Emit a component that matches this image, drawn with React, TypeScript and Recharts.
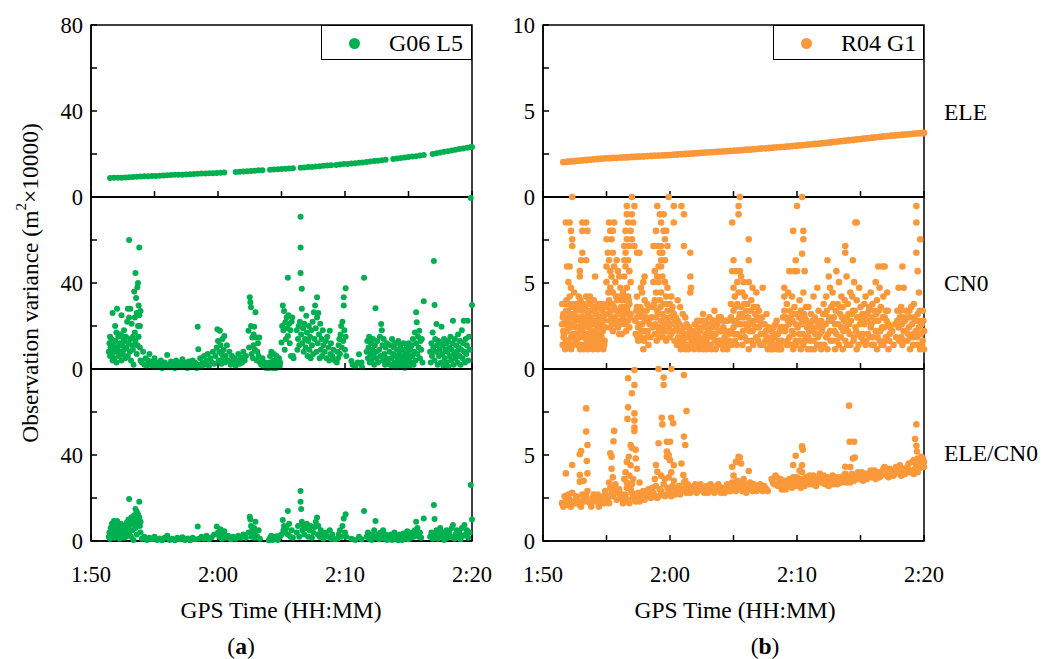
import React from 'react';
import { ScatterChart, Scatter, XAxis, YAxis, ReferenceArea, Legend } from 'recharts';

type Pt = [number, number];

// time axis: minutes after 1:50
const timeTicks = [0, 5, 10, 15, 20, 25, 30];
const timeLabels: Record<number, string> = { 0: '1:50', 10: '2:00', 20: '2:10', 30: '2:20' };
const leftYTicks = [0, 20, 40, 60, 80];
const rightYTicks = [0, 2.5, 5, 7.5, 10];
const leftTopLabels = [0, 40, 80];
const leftLabels = [0, 40];
const rightTopLabels = [0, 5, 10];
const rightLabels = [0, 5];
const rowNames = ['ELE', 'CN0', 'ELE/CN0'];
const seriesNames = ['G06 L5', 'R04 G1'];

const g06Ele: Pt[] = [
  [1.5, 8.8], [1.8, 8.9], [2.1, 9.0], [2.4, 9.0], [2.7, 9.1], [3.0, 9.2], [3.3, 9.3], [3.6, 9.4], [3.9, 9.5], [4.2, 9.6],
  [4.5, 9.7], [4.8, 9.8], [5.1, 9.8], [5.4, 9.9], [5.7, 10.0], [6.0, 10.1], [6.3, 10.2], [6.6, 10.3], [6.9, 10.4], [7.2, 10.4],
  [7.5, 10.5], [7.8, 10.6], [8.1, 10.7], [8.4, 10.8], [8.7, 10.9], [9.0, 10.9], [9.3, 11.0], [9.6, 11.1], [9.9, 11.2], [10.2, 11.3],
  [10.5, 11.4], [11.4, 11.6], [11.7, 11.7], [12.0, 11.9], [12.3, 12.0], [12.6, 12.1], [12.9, 12.2], [13.2, 12.4], [13.5, 12.5],
  [14.1, 12.7], [14.4, 12.8], [14.7, 12.9], [15.0, 13.0], [15.3, 13.1], [15.6, 13.3], [15.9, 13.4], [16.5, 13.6], [16.8, 13.7],
  [17.1, 13.9], [17.4, 14.0], [17.7, 14.2], [18.0, 14.3], [18.3, 14.5], [18.6, 14.6], [18.9, 14.8], [19.3, 14.9], [19.6, 15.1],
  [19.9, 15.3], [20.2, 15.4], [20.5, 15.6], [20.8, 15.7], [21.1, 15.9], [21.4, 16.1], [21.7, 16.3], [22.0, 16.5], [22.3, 16.7],
  [22.6, 16.9], [22.9, 17.1], [23.2, 17.3], [23.8, 17.7], [24.1, 17.9], [24.4, 18.1], [24.7, 18.4], [25.0, 18.6], [25.3, 18.8],
  [25.6, 19.0], [25.9, 19.3], [26.2, 19.5], [26.9, 20.0], [27.2, 20.4], [27.5, 20.7], [27.8, 21.0], [28.1, 21.3], [28.4, 21.6],
  [28.7, 22.0], [29.0, 22.3], [29.3, 22.6], [29.6, 22.9], [29.9, 23.2], [30.0, 23.3],
];

const g06Cn0: Pt[] = [
  [1.4, 8], [1.45, 12], [1.5, 6], [1.55, 10], [1.6, 14], [1.65, 7], [1.7, 26], [1.75, 9], [1.8, 11], [1.85, 5], [1.9, 13], [1.95, 8],
  [2.0, 17], [2.05, 28], [2.1, 10], [2.15, 15], [2.2, 6], [2.25, 12], [2.3, 8], [2.35, 16], [2.4, 25], [2.45, 11], [2.5, 7], [2.55, 14],
  [2.6, 9], [2.65, 13], [2.7, 5], [2.75, 15], [2.8, 10], [2.85, 22], [2.9, 28], [2.95, 12], [3.0, 60], [3.0, 24], [3.05, 8], [3.1, 28],
  [3.1, 14], [3.15, 4], [3.2, 21], [3.25, 11], [3.3, 15], [3.35, 2], [3.4, 36], [3.45, 24], [3.5, 44.6], [3.5, 13], [3.55, 33], [3.6, 26],
  [3.6, 7], [3.65, 38], [3.7, 40], [3.7, 20], [3.75, 29.5], [3.75, 15], [3.8, 56.5], [3.8, 25], [3.85, 20], [3.85, 10], [3.9, 27], [3.9, 4],
  [1.5, 15], [1.7, 4], [2.0, 3], [2.2, 16], [2.6, 18], [2.9, 6], [3.3, 9], [3.45, 17], [3.65, 11], [1.9, 20], [2.4, 4],
  [4.0, 3], [4.1, 8], [4.2, 2], [4.3, 5], [4.4, 1.5], [4.5, 4], [4.6, 7], [4.7, 2], [4.8, 3.5], [4.9, 1], [5.0, 5], [5.1, 2.5], [5.2, 1],
  [5.3, 3], [5.4, 1.5], [5.5, 4], [5.6, 0.5], [5.7, 2], [5.8, 3], [5.9, 1], [6.0, 6.5], [6.1, 2], [6.2, 0.8], [6.3, 3.5], [6.4, 1.5],
  [6.5, 2.5], [6.6, 0.5], [6.7, 4], [6.8, 1.5], [6.9, 3], [7.0, 2], [7.1, 0.8], [7.2, 4.5], [7.3, 1.5], [7.4, 3], [7.5, 2], [7.6, 0.5],
  [7.7, 3.5], [7.8, 1], [7.9, 2.5], [8.0, 4], [8.1, 1.5], [8.2, 3], [8.3, 0.5], [8.4, 19.7], [8.45, 9.2], [8.5, 2], [8.6, 5], [8.7, 1],
  [8.8, 3], [8.9, 6], [9.0, 2], [9.1, 4], [9.2, 7], [9.3, 1.5], [9.4, 5], [9.5, 3], [9.6, 8], [9.7, 2.5], [9.8, 6], [9.9, 10],
  [9.95, 18.5], [10.0, 13], [10.05, 4], [10.1, 8], [10.15, 17.8], [10.2, 11], [10.25, 2.5], [10.3, 7], [10.35, 14], [10.4, 5], [10.45, 9],
  [10.5, 15.4], [10.55, 3], [10.6, 6], [10.7, 11], [10.8, 4], [10.9, 8], [11.0, 2], [11.1, 6], [11.2, 3.5], [11.3, 5], [11.4, 1.5],
  [11.5, 4], [11.6, 7], [11.7, 2.5], [11.8, 5.5], [11.9, 3], [12.0, 8], [12.1, 4], [12.2, 6],
  [12.4, 17.8], [12.45, 10], [12.5, 33.4], [12.55, 31], [12.6, 28.7], [12.65, 7], [12.7, 14.7], [12.75, 5], [12.8, 11], [12.85, 19.7],
  [12.9, 9], [12.95, 26.4], [13.0, 14.7], [13.05, 4], [13.1, 8], [13.15, 12], [13.2, 6], [13.25, 14.7], [13.3, 3], [12.6, 20], [12.8, 16],
  [13.4, 2], [13.5, 5], [13.6, 1], [13.7, 3], [13.8, 0.5],
  [14.0, 0.5], [14.05, 3], [14.1, 6], [14.15, 1], [14.2, 8], [14.25, 2], [14.3, 0.5], [14.35, 4], [14.4, 7], [14.45, 1.5], [14.5, 3.7],
  [14.55, 0.5], [14.6, 6], [14.65, 2], [14.7, 4], [14.75, 0.8], [14.8, 5], [14.85, 1.5], [14.9, 3],
  [15.0, 12.3], [15.05, 20], [15.1, 29.5], [15.15, 18], [15.2, 27], [15.25, 9], [15.3, 21.7], [15.35, 14], [15.4, 24], [15.45, 19],
  [15.5, 42.4], [15.5, 15.4], [15.55, 25], [15.6, 21], [15.65, 12], [15.7, 18], [15.75, 6.1], [15.8, 22], [15.85, 24], [15.9, 6], [15.95, 5],
  [16.2, 18], [16.25, 9], [16.3, 14], [16.35, 20], [16.4, 11], [16.45, 22], [16.5, 70.8], [16.5, 56.5], [16.5, 44.6], [16.55, 16],
  [16.6, 37.3], [16.6, 28], [16.65, 12], [16.7, 19], [16.75, 8], [16.8, 21], [16.85, 14], [16.9, 10], [16.95, 24.8], [17.0, 17],
  [17.05, 6], [17.1, 13], [17.15, 20], [17.2, 9], [17.25, 15], [17.3, 5], [17.35, 18], [17.4, 11], [17.45, 22], [17.5, 7], [17.55, 26.4],
  [17.6, 14], [17.65, 29.5], [17.7, 19], [17.75, 8], [17.8, 33.4], [17.8, 24], [17.85, 12], [17.9, 26], [17.95, 16], [18.0, 5], [18.05, 21],
  [18.1, 9], [18.15, 14], [18.2, 6], [18.25, 18], [18.3, 11],
  [18.4, 8], [18.5, 13], [18.55, 5], [18.6, 15], [18.7, 10], [18.75, 4], [18.8, 17.8], [18.85, 7], [18.9, 12], [19.0, 6], [19.1, 9], [19.2, 4],
  [19.35, 3], [19.4, 8], [19.45, 5], [19.5, 11], [19.55, 14], [19.6, 7], [19.65, 16], [19.7, 20], [19.75, 10], [19.8, 22], [19.85, 13],
  [19.9, 29.5], [19.9, 33.4], [19.95, 18], [20.0, 9], [20.05, 37.6], [20.05, 15], [20.1, 6],
  [20.5, 3.7], [20.6, 2], [20.8, 1], [21.0, 3], [21.1, 6.9], [21.2, 2.5], [21.3, 3], [21.35, 0.8], [21.5, 42.4],
  [21.7, 8], [21.75, 13], [21.8, 5], [21.85, 10], [21.9, 15], [21.95, 3], [22.0, 7], [22.05, 12], [22.1, 4], [22.15, 9], [22.2, 14],
  [22.25, 6], [22.3, 2], [22.35, 11], [22.4, 28.2], [22.45, 8], [22.5, 5], [22.55, 13], [22.6, 3], [22.7, 9], [22.75, 15], [22.8, 6],
  [22.85, 20.9], [22.9, 18], [22.95, 11], [23.0, 4], [23.05, 14], [23.1, 7], [23.15, 2], [23.2, 10], [23.25, 5], [23.3, 12], [23.4, 3],
  [23.5, 8], [23.55, 2], [23.6, 11], [23.65, 5], [23.7, 14], [23.75, 1], [23.8, 7], [23.85, 10], [23.9, 3], [23.95, 12], [24.0, 6],
  [24.05, 0.8], [24.1, 9], [24.15, 4], [24.2, 13], [24.25, 2], [24.3, 7], [24.35, 11], [24.4, 5], [24.45, 1.5], [24.5, 9], [24.55, 3],
  [24.6, 12], [24.65, 6], [24.7, 0.6], [24.75, 8], [24.8, 4], [24.85, 10], [24.9, 2], [24.95, 7], [25.0, 12], [25.05, 5], [25.1, 1.5],
  [25.15, 9], [25.2, 3], [25.25, 11], [25.3, 6], [25.35, 14], [25.4, 2], [25.45, 8], [25.5, 17], [25.55, 4], [25.6, 26.4], [25.6, 12],
  [25.65, 21.7], [25.7, 7], [25.75, 15], [25.8, 10], [25.85, 17.8], [25.9, 5], [25.95, 13], [26.2, 31.5], [26.0, 9], [26.1, 3], [26.05, 14],
  [26.7, 8], [26.75, 3], [26.8, 12], [26.85, 6], [26.9, 17], [26.95, 10], [27.0, 50.2], [27.05, 29.8], [27.05, 4], [27.1, 14], [27.15, 8],
  [27.2, 20.9], [27.25, 11], [27.3, 2], [27.35, 13], [27.4, 6], [27.45, 9], [27.5, 12], [27.55, 3], [27.6, 19.7], [27.65, 7], [27.7, 11],
  [27.75, 1.5], [27.8, 14], [27.85, 5], [27.9, 9], [27.95, 12], [28.0, 3], [28.05, 8], [28.1, 13], [28.15, 1], [28.2, 10], [28.25, 6],
  [28.3, 15], [28.35, 4], [28.4, 9], [28.45, 12], [28.5, 22.5], [28.55, 2], [28.6, 7], [28.65, 14], [28.7, 5], [28.75, 11], [28.8, 8],
  [28.85, 3], [28.9, 16], [28.95, 10], [29.0, 6], [29.05, 13], [29.1, 2], [29.15, 9], [29.2, 18], [29.25, 5], [29.3, 12], [29.35, 22.5],
  [29.4, 8], [29.45, 3], [29.5, 14], [29.55, 7], [29.6, 11], [29.65, 22.5], [29.7, 4], [29.75, 15], [29.8, 9], [29.9, 79.5], [30, 29.8],
];

const g06Ratio: Pt[] = [
  [1.4, 2], [1.45, 4], [1.5, 1], [1.55, 6], [1.6, 3], [1.65, 8], [1.7, 2.5], [1.75, 5], [1.8, 9.3], [1.85, 1.5], [1.9, 4], [1.95, 7],
  [2.0, 2], [2.05, 9.3], [2.1, 5], [2.15, 3], [2.2, 6.5], [2.25, 1], [2.3, 4], [2.35, 8], [2.4, 2.5], [2.45, 5.5], [2.5, 3], [2.55, 7],
  [2.6, 1.5], [2.65, 4.5], [2.7, 6], [2.75, 2], [2.8, 8.5], [2.85, 3.5], [2.9, 6], [2.95, 10], [3.0, 19.5], [3.0, 4], [3.05, 7.5],
  [3.1, 9.5], [3.15, 2], [3.2, 11], [3.25, 5], [3.3, 8], [3.35, 0.5], [3.4, 12], [3.45, 9], [3.5, 14.9], [3.5, 6], [3.55, 11], [3.6, 13.6],
  [3.6, 3], [3.65, 10], [3.7, 12.5], [3.75, 8], [3.8, 18.3], [3.8, 11], [3.85, 7], [3.9, 4], [3.9, 9],
  [4.0, 1], [4.2, 2], [4.4, 0.5], [4.6, 1.5], [4.8, 0.8], [5.0, 2], [5.2, 0.5], [5.4, 1.2], [5.6, 0.3], [5.8, 1.5], [6.0, 2.5], [6.2, 0.5],
  [6.4, 1], [6.6, 0.3], [6.8, 1.5], [7.0, 0.8], [7.2, 1.8], [7.4, 0.5], [7.6, 1.2], [7.8, 0.4], [8.0, 1.5], [8.2, 0.8], [8.4, 6.7],
  [8.5, 1], [8.7, 2], [8.9, 1], [9.1, 2.5], [9.3, 0.8], [9.5, 1.8], [9.7, 3], [9.9, 6.7],
  [10.0, 4], [10.1, 2], [10.2, 5.5], [10.3, 1], [10.4, 3], [10.5, 4.5], [10.6, 1.5], [10.8, 2.5], [11.0, 0.8], [11.2, 2], [11.4, 1],
  [11.6, 2.5], [11.8, 1.5], [12.0, 3], [12.2, 1.5],
  [12.4, 4], [12.5, 11.3], [12.55, 10], [12.6, 7], [12.65, 2], [12.7, 5], [12.8, 3.5], [12.85, 6], [12.9, 1.5], [12.95, 9], [13.0, 4.5],
  [13.1, 2], [13.2, 5], [13.3, 1],
  [14.0, 0.3], [14.1, 1.5], [14.2, 2.5], [14.3, 0.5], [14.4, 1.8], [14.5, 0.8], [14.6, 2.2], [14.7, 0.5], [14.8, 1.5], [14.9, 2.5],
  [15.0, 3], [15.1, 9.8], [15.15, 5], [15.2, 7], [15.3, 4], [15.4, 6], [15.5, 14], [15.5, 3], [15.6, 8], [15.7, 2], [15.8, 5], [15.9, 1.5],
  [16.2, 4], [16.3, 7], [16.4, 2], [16.5, 23.3], [16.5, 18.3], [16.55, 14.9], [16.6, 9], [16.65, 5], [16.7, 7.5], [16.8, 3], [16.9, 6],
  [17.0, 8], [17.1, 2], [17.2, 5], [17.3, 7], [17.4, 1.5], [17.5, 4], [17.6, 6.5], [17.7, 9], [17.8, 10.9], [17.85, 3], [17.9, 7],
  [18.0, 2], [18.1, 5], [18.2, 3], [18.3, 1],
  [18.5, 4], [18.6, 2], [18.8, 5], [18.9, 1], [19.0, 3], [19.2, 0.8],
  [19.4, 1], [19.5, 3], [19.6, 5], [19.7, 2], [19.8, 7], [19.9, 10.5], [20.0, 4], [20.05, 12.4], [20.1, 2],
  [20.5, 1], [20.8, 0.5], [21.1, 2], [21.3, 0.8], [21.5, 14],
  [21.7, 2], [21.8, 4], [21.9, 1], [22.0, 3], [22.1, 0.5], [22.2, 2.5], [22.3, 5], [22.4, 9.3], [22.5, 1.5], [22.6, 3], [22.7, 0.8],
  [22.8, 4], [22.9, 2], [23.0, 5], [23.1, 1], [23.2, 3], [23.3, 0.5], [23.4, 2],
  [23.5, 1], [23.6, 3], [23.7, 0.5], [23.8, 2], [23.9, 4], [24.0, 1], [24.1, 2.5], [24.2, 0.3], [24.3, 3], [24.4, 1.5], [24.5, 0.5],
  [24.6, 3.5], [24.7, 1], [24.8, 2], [24.9, 4.5], [25.0, 0.8], [25.1, 2.5], [25.2, 1.5], [25.3, 4], [25.4, 2], [25.5, 5], [25.6, 9],
  [25.65, 3], [25.7, 6], [25.8, 2], [25.9, 4], [26.0, 1.5], [26.2, 10.5],
  [26.7, 2], [26.8, 4], [26.9, 1], [27.0, 16.7], [27.05, 10.2], [27.1, 3], [27.2, 5], [27.3, 1], [27.4, 3.5], [27.5, 6], [27.6, 2],
  [27.7, 4], [27.8, 0.5], [27.9, 3], [28.0, 5], [28.1, 1.5], [28.2, 4], [28.3, 2], [28.4, 6], [28.5, 7.4], [28.6, 1], [28.7, 3], [28.8, 5],
  [28.9, 2], [29.0, 4], [29.1, 0.8], [29.2, 6], [29.3, 2.5], [29.4, 7.4], [29.5, 3], [29.6, 5], [29.7, 1.5], [29.8, 4], [29.9, 26], [30, 10],
];

const r04Ele: Pt[] = [
  [1.6, 2.03], [1.9, 2.05], [2.2, 2.07], [2.5, 2.09], [2.8, 2.11], [3.1, 2.13], [3.4, 2.15], [3.7, 2.17], [4.0, 2.19], [4.3, 2.21],
  [4.6, 2.23], [4.9, 2.25], [5.2, 2.26], [5.5, 2.27], [5.8, 2.28], [6.1, 2.29], [6.4, 2.30], [6.7, 2.31], [7.0, 2.33], [7.3, 2.34],
  [7.6, 2.35], [7.9, 2.36], [8.2, 2.38], [8.5, 2.39], [8.8, 2.40], [9.1, 2.41], [9.4, 2.42], [9.7, 2.43], [10.0, 2.44], [10.3, 2.46],
  [10.6, 2.47], [10.9, 2.49], [11.2, 2.50], [11.5, 2.52], [11.8, 2.53], [12.1, 2.55], [12.4, 2.56], [12.7, 2.58], [13.0, 2.59],
  [13.3, 2.61], [13.6, 2.62], [13.9, 2.64], [14.2, 2.65], [14.5, 2.67], [14.8, 2.68], [15.1, 2.70], [15.4, 2.71], [15.7, 2.73],
  [16.0, 2.75], [16.3, 2.76], [16.6, 2.78], [16.9, 2.80], [17.2, 2.82], [17.5, 2.83], [17.8, 2.85], [18.1, 2.87], [18.4, 2.89],
  [18.7, 2.90], [19.0, 2.92], [19.3, 2.94], [19.6, 2.96], [19.9, 2.98], [20.2, 3.00], [20.5, 3.02], [20.8, 3.04], [21.1, 3.06],
  [21.4, 3.08], [21.7, 3.10], [22.0, 3.13], [22.3, 3.15], [22.6, 3.17], [22.9, 3.20], [23.2, 3.22], [23.5, 3.25], [23.8, 3.27],
  [24.1, 3.30], [24.4, 3.32], [24.7, 3.35], [25.0, 3.37], [25.3, 3.40], [25.6, 3.42], [25.9, 3.45], [26.2, 3.47], [26.5, 3.50],
  [26.8, 3.52], [27.1, 3.54], [27.4, 3.56], [27.7, 3.58], [28.0, 3.60], [28.3, 3.62], [28.6, 3.64], [28.9, 3.66], [29.2, 3.68],
  [29.5, 3.70], [29.8, 3.71], [30.0, 3.72],
];

const r04Cn0: Pt[] = [
  [1.8, 8.52], [2.1, 8.52], [2.2, 8.03], [2.3, 10], [2.3, 7.54], [2.3, 7.15], [2.1, 5.96], [1.9, 5.96], [2.0, 5.05], [2.2, 4.72],
  [3.1, 8.52], [3.4, 8.52], [3.1, 8.03], [3.5, 8.03], [3.1, 6.76], [3.0, 6.32], [3.4, 6.32], [2.9, 5.69], [2.9, 5.38], [4.1, 5.38], [3.7, 4.21],
  [1.5, 2.6], [1.55, 1.4], [1.6, 3.2], [1.65, 2.03], [1.7, 3.78], [1.75, 1.15], [1.8, 2.8], [1.85, 4.0], [1.9, 2.2], [1.95, 3.39],
  [2.0, 1.64], [2.05, 3.0], [2.1, 4.21], [2.15, 2.42], [2.2, 1.85], [2.25, 3.6], [2.3, 2.6], [2.35, 1.4], [2.4, 3.2], [2.45, 4.45],
  [2.5, 2.03], [2.55, 2.8], [2.6, 3.78], [2.65, 1.64], [2.7, 3.0], [2.75, 2.42], [2.8, 3.6], [2.85, 1.85], [2.9, 2.8], [2.95, 4.0],
  [3.0, 1.4], [3.05, 3.39], [3.1, 2.2], [3.15, 3.0], [3.2, 1.15], [3.25, 2.6], [3.3, 3.6], [3.35, 2.03], [3.4, 4.21], [3.45, 1.64],
  [3.5, 2.8], [3.55, 3.2], [3.6, 1.85], [3.65, 2.42], [3.7, 3.78], [3.75, 1.4], [3.8, 3.0], [3.85, 2.2], [3.9, 3.39], [3.95, 1.15],
  [4.0, 2.6], [4.05, 3.6], [4.1, 1.85], [4.15, 2.8], [4.2, 3.2], [4.25, 1.64], [4.3, 2.42], [4.35, 3.78], [4.4, 2.03], [4.45, 1.4],
  [4.5, 3.0], [4.55, 2.6], [4.6, 1.85], [4.65, 3.39], [4.7, 2.2], [4.75, 1.15], [4.8, 2.8], [4.85, 1.64], [4.9, 2.42],
  [1.6, 2.2], [1.8, 1.64], [2.0, 3.78], [2.2, 3.0], [2.4, 1.85], [2.6, 2.42], [2.8, 1.4], [3.0, 3.0], [3.2, 3.78], [3.4, 2.8],
  [3.6, 3.39], [3.8, 1.85], [4.0, 4.0], [4.2, 2.2], [4.4, 3.6], [4.6, 2.8], [4.8, 3.6],
  [5.0, 7.54], [5.4, 7.54], [5.2, 8.52], [5.6, 8.52], [5.3, 8.03], [5.5, 8.03], [5.1, 6.76], [5.5, 6.76], [5.2, 6.32], [5.8, 6.32],
  [5.0, 5.96], [5.6, 5.96], [5.3, 5.69], [5.9, 5.69], [5.4, 5.38], [6.0, 5.38], [5.0, 5.05], [5.7, 5.05], [6.1, 4.72], [5.3, 4.72],
  [5.5, 4.45], [5.9, 4.21], [6.2, 4.0], [5.2, 4.0], [5.0, 3.78], [5.6, 3.6], [5.8, 3.39], [6.0, 3.2], [5.1, 3.2], [5.4, 3.0], [6.3, 2.8],
  [5.7, 2.8], [5.9, 2.42], [6.1, 2.6], [5.3, 2.42], [6.0, 2.03], [5.5, 2.2], [6.2, 2.03],
  [6.6, 9.47], [6.6, 8.99], [6.7, 8.52], [6.5, 8.03], [6.6, 7.54], [6.4, 7.15], [6.8, 7.15], [7.2, 9.47], [7.0, 10], [7.0, 8.99],
  [7.1, 8.52], [6.9, 8.03], [7.0, 7.54], [7.2, 7.15], [7.4, 6.76], [7.6, 6.76], [6.5, 6.76], [6.4, 6.32], [6.7, 6.32], [6.5, 5.96],
  [6.8, 5.69], [6.4, 5.38], [6.9, 5.05], [6.6, 4.72], [6.3, 4.45], [6.7, 4.21], [6.5, 4.0], [6.8, 3.78], [6.4, 3.6], [6.6, 3.39],
  [6.9, 3.2], [6.3, 3.0], [6.7, 2.8], [6.5, 2.6], [6.8, 2.42],
  [7.4, 4.21], [7.4, 3.6], [7.4, 3.0], [7.5, 2.42], [7.3, 2.03], [7.5, 1.64], [7.7, 4.72], [7.9, 5.05], [8.0, 5.38], [7.8, 4.45],
  [8.0, 4.0], [8.2, 3.78], [7.9, 3.39], [8.1, 3.0], [8.3, 2.8], [7.8, 2.6], [8.0, 2.2], [8.2, 1.85], [7.6, 3.2], [8.4, 2.6], [7.7, 1.85],
  [8.3, 1.4], [7.9, 1.15],
  [9.0, 9.47], [8.9, 8.03], [9.2, 8.99], [9.5, 8.99], [9.3, 8.52], [9.5, 8.03], [9.7, 8.03], [9.6, 7.54], [8.7, 7.15], [9.0, 7.15],
  [9.3, 7.15], [9.8, 7.15], [9.2, 6.76], [9.4, 6.76], [9.3, 6.32], [9.6, 6.32], [9.3, 5.96], [9.1, 5.96], [9.9, 10], [10.3, 9.47],
  [10.3, 8.52], [8.8, 5.69], [9.0, 5.38], [9.4, 5.38], [8.7, 5.05], [9.1, 5.05], [9.6, 5.05], [9.8, 4.72], [8.9, 4.45], [9.3, 4.45],
  [9.7, 4.21], [10.1, 4.21], [8.8, 4.0], [9.2, 4.0], [9.5, 3.78], [10.0, 3.78], [8.7, 3.6], [9.0, 3.39], [9.4, 3.2], [9.8, 3.39],
  [10.2, 3.6], [8.9, 3.0], [9.3, 2.8], [9.6, 2.6], [10.0, 3.0], [10.3, 3.2], [9.1, 2.42], [9.5, 2.2], [9.9, 2.42], [10.4, 2.8],
  [8.8, 2.03], [9.2, 1.85], [9.7, 1.64], [10.1, 2.03], [10.5, 2.42],
  [10.9, 9.47], [11.1, 8.99], [11.1, 7.15], [11.6, 6.76], [11.6, 5.38], [11.65, 4.72], [11.6, 4.45], [10.6, 4.0], [10.8, 3.6], [11.0, 3.2],
  [11.3, 2.6], [10.7, 2.2], [11.0, 1.85], [11.4, 2.03], [11.7, 1.64], [10.9, 1.4], [11.2, 1.15], [11.5, 1.4], [11.8, 2.2], [10.6, 2.8],
  [11.2, 3.0], [11.5, 2.42], [11.1, 2.42], [10.8, 1.64],
  [11.9, 1.15], [12.0, 2.03], [12.1, 1.64], [12.2, 2.42], [12.3, 1.15], [12.4, 2.8], [12.5, 1.4], [12.6, 3.2], [12.7, 1.85], [12.8, 2.6],
  [12.9, 1.15], [13.0, 2.2], [13.1, 3.0], [13.2, 1.4], [13.3, 2.42], [13.4, 1.85], [13.5, 3.39], [13.6, 1.15], [13.7, 2.6], [13.8, 1.64],
  [13.9, 2.2], [14.0, 3.0], [14.1, 1.4], [14.2, 2.42], [14.3, 1.85], [14.4, 2.8], [14.5, 1.15], [14.6, 2.03],
  [12.2, 1.4], [12.6, 1.64], [13.0, 1.4], [13.4, 2.8], [13.8, 2.8], [14.2, 1.15], [12.8, 2.03], [13.6, 2.03],
  [14.9, 8.52], [15.4, 9.47], [15.4, 8.99], [15.5, 10], [15.0, 6.32], [16.2, 7.54], [16.2, 6.32], [14.9, 5.69], [15.2, 5.69], [15.5, 5.69],
  [15.6, 5.38], [15.3, 5.05], [15.8, 5.05], [16.2, 5.05], [16.5, 4.72], [15.0, 4.72], [15.4, 4.45], [15.7, 4.45], [16.8, 4.45], [15.1, 4.21],
  [15.9, 4.21], [16.4, 4.0], [17.3, 4.72], [14.8, 3.78], [15.3, 3.78], [16.1, 3.78], [16.6, 3.6], [15.6, 3.6], [15.0, 3.39], [15.5, 3.2],
  [16.0, 3.39], [16.7, 3.2], [17.0, 3.39], [17.6, 3.2], [14.8, 3.0], [15.2, 2.8], [15.8, 3.0], [16.3, 2.8], [16.9, 3.0], [17.2, 2.6],
  [15.0, 2.42], [15.6, 2.6], [16.1, 2.42], [16.5, 2.2], [17.0, 2.42], [17.4, 2.03], [15.3, 2.03], [15.9, 1.85], [16.4, 1.64], [16.8, 1.85],
  [17.5, 1.64], [15.1, 1.64], [15.7, 1.4], [16.2, 1.15], [17.1, 1.4], [17.7, 1.15],
  [17.9, 1.4], [18.0, 2.2], [18.1, 1.15], [18.2, 1.85], [18.3, 2.6], [18.4, 1.4], [18.5, 2.03], [18.6, 1.15], [18.7, 2.42], [18.8, 1.64],
  [18.9, 3.0], [18.0, 1.64], [18.4, 2.8], [18.7, 1.4],
  [20.0, 9.47], [19.7, 8.03], [20.4, 10], [20.5, 8.03], [20.5, 7.54], [20.4, 6.7], [19.9, 6.32], [19.4, 5.69], [19.8, 5.69], [20.0, 5.69],
  [20.6, 5.69], [19.0, 4.72], [19.3, 4.45], [19.0, 4.21], [19.6, 4.21], [20.2, 4.0], [20.5, 4.45], [19.2, 3.78], [19.8, 3.6], [20.3, 3.39],
  [20.7, 3.6], [19.0, 3.39], [19.5, 3.0], [20.1, 3.2], [20.6, 3.0], [19.3, 2.8], [19.9, 2.6], [20.4, 2.8], [20.8, 2.42], [19.1, 2.42],
  [19.6, 2.2], [20.2, 2.03], [20.7, 1.85], [19.4, 1.85], [19.9, 1.64], [20.5, 1.4], [19.2, 1.4], [19.7, 1.15], [20.3, 1.15],
  [21.3, 4.21], [21.6, 4.72], [20.9, 3.6], [21.1, 3.2], [21.4, 3.0], [21.7, 3.39], [21.9, 2.8], [21.0, 2.6], [21.2, 2.2], [21.5, 2.42],
  [21.8, 2.03], [20.9, 1.85], [21.3, 1.64], [21.6, 1.4], [21.9, 1.15], [21.1, 1.15],
  [22.4, 6.32], [23.1, 5.69], [23.8, 7.15], [23.8, 6.76], [24.4, 6.32], [24.6, 8.52], [24.7, 8.52], [22.5, 5.38], [22.6, 4.72], [23.3, 5.05],
  [23.9, 5.38], [24.5, 5.05], [24.9, 4.72], [22.3, 4.21], [22.8, 4.45], [23.5, 4.21], [24.2, 4.45], [24.7, 4.0], [22.1, 3.78], [22.7, 3.6],
  [23.2, 3.78], [23.6, 3.6], [24.0, 3.78], [24.4, 3.39], [25.0, 3.6], [22.2, 3.2], [22.9, 3.0], [23.4, 3.2], [23.9, 3.0], [24.3, 3.2],
  [24.8, 3.0], [22.5, 2.8], [23.0, 2.6], [23.7, 2.8], [24.1, 2.6], [24.6, 2.42], [25.1, 2.8], [22.0, 2.42], [22.6, 2.2], [23.1, 2.03],
  [23.5, 2.42], [24.0, 2.2], [24.5, 1.85], [24.9, 2.03], [22.3, 1.85], [22.8, 1.64], [23.3, 1.4], [23.8, 1.64], [24.2, 1.4], [24.7, 1.15],
  [25.2, 1.64], [22.4, 1.15], [23.0, 1.15], [23.6, 1.15],
  [26.4, 5.96], [26.7, 5.96], [26.9, 5.96], [26.2, 5.05], [26.5, 4.72], [25.4, 4.21], [25.8, 4.45], [26.3, 4.0], [26.8, 4.21], [27.1, 4.45],
  [25.3, 3.78], [25.7, 3.6], [26.1, 3.39], [26.6, 3.6], [27.0, 3.39], [25.5, 3.2], [25.9, 3.0], [26.4, 2.8], [26.9, 3.0], [27.2, 2.6],
  [25.3, 2.6], [25.8, 2.42], [26.2, 2.2], [26.7, 2.42], [27.3, 2.03], [25.6, 2.03], [26.0, 1.85], [26.5, 1.64], [27.0, 1.85], [25.4, 1.4],
  [25.9, 1.4], [26.3, 1.15], [26.8, 1.4], [27.2, 1.15],
  [28.3, 5.96], [28.0, 4.72], [28.4, 4.72], [29.4, 9.47], [29.4, 8.52], [29.7, 7.54], [29.4, 6.76], [29.5, 5.69], [29.6, 4.45], [29.2, 3.78],
  [27.9, 3.39], [28.2, 3.6], [28.6, 3.39], [29.0, 3.6], [29.5, 3.2], [29.9, 3.39], [28.1, 3.0], [28.5, 2.8], [28.9, 3.0], [29.3, 2.8],
  [29.8, 2.6], [28.0, 2.42], [28.4, 2.2], [28.8, 2.42], [29.2, 2.03], [29.6, 2.42], [30.0, 2.2], [28.2, 1.85], [28.7, 1.64], [29.1, 1.85],
  [29.5, 1.4], [29.9, 1.64], [28.3, 1.4], [28.9, 1.15], [29.7, 1.15], [30.0, 1.15],
];

// extra CN0 points filling the dense low band of R04
const r04Cn0Dense: Pt[] = [
  [1.52, 3.78], [1.62, 1.85], [1.72, 2.6], [1.82, 3.39], [1.92, 1.4], [2.02, 2.42], [2.12, 3.0], [2.22, 1.15], [2.32, 3.78], [2.42, 2.6],
  [2.52, 1.64], [2.62, 3.39], [2.72, 2.03], [2.82, 4.21], [2.92, 1.15], [3.02, 2.6], [3.12, 3.78], [3.22, 2.42], [3.32, 1.4], [3.42, 3.0],
  [3.52, 2.03], [3.62, 4.0], [3.72, 2.6], [3.82, 1.64], [3.92, 2.8], [4.02, 1.85], [4.12, 3.39], [4.22, 2.6], [4.32, 1.15], [4.42, 3.0],
  [4.52, 1.64], [4.62, 3.78], [4.72, 2.42], [4.82, 1.4], [4.92, 3.2],
  [1.57, 3.0], [1.77, 2.2], [1.97, 2.8], [2.17, 3.2], [2.37, 2.03], [2.57, 3.6], [2.77, 1.4], [2.97, 2.2], [3.17, 1.85], [3.37, 3.39],
  [3.57, 1.15], [3.77, 2.03], [3.97, 3.6], [4.17, 1.4], [4.37, 2.8], [4.57, 2.03], [4.77, 3.0],
  [5.05, 3.6], [5.25, 2.8], [5.45, 3.78], [5.65, 3.0], [5.85, 4.0], [6.05, 2.8], [6.25, 3.39], [6.45, 3.2], [6.65, 3.6], [6.85, 3.0],
  [5.15, 4.45], [5.35, 3.39], [5.55, 2.6], [5.75, 4.21], [5.95, 3.2], [6.15, 3.6], [6.35, 4.21], [6.55, 2.2], [6.75, 4.0],
  [7.25, 2.8], [7.35, 3.39], [7.45, 1.85], [7.55, 2.6], [7.65, 3.6], [7.75, 2.2], [7.85, 3.0], [7.95, 1.64], [8.05, 2.8], [8.15, 3.39],
  [8.25, 2.2], [8.35, 3.6], [8.45, 1.85], [8.55, 3.0], [8.65, 2.42], [8.75, 3.78], [8.85, 2.6], [8.95, 1.64], [9.05, 3.2], [9.15, 2.2],
  [9.25, 3.6], [9.35, 2.42], [9.45, 1.85], [9.55, 3.0], [9.65, 2.2], [9.75, 3.78], [9.85, 2.8], [9.95, 1.85], [10.05, 2.6], [10.15, 3.39],
  [10.25, 2.2], [10.35, 1.64], [10.45, 3.0],
  [10.55, 1.4], [10.65, 1.85], [10.75, 2.6], [10.85, 1.15], [10.95, 2.2], [11.05, 1.64], [11.15, 2.03], [11.25, 1.4], [11.35, 1.85],
  [11.45, 1.15], [11.55, 2.2], [11.65, 1.4], [11.75, 1.85],
  [11.85, 1.64], [11.95, 2.6], [12.05, 1.4], [12.15, 2.8], [12.25, 1.85], [12.35, 2.2], [12.45, 1.64], [12.55, 2.42], [12.65, 1.15],
  [12.75, 2.8], [12.85, 1.64], [12.95, 2.42], [13.05, 1.85], [13.15, 2.6], [13.25, 1.15], [13.35, 2.03], [13.45, 2.8], [13.55, 1.64],
  [13.65, 2.42], [13.75, 1.4], [13.85, 3.0], [13.95, 1.64], [14.05, 2.2], [14.15, 2.8], [14.25, 1.64], [14.35, 2.2], [14.45, 1.4],
  [14.55, 2.8], [14.65, 1.64],
  [14.75, 2.2], [14.85, 1.4], [14.95, 2.8], [15.05, 2.03], [15.15, 3.6], [15.25, 1.4], [15.35, 2.6], [15.45, 3.0], [15.55, 1.85],
  [15.65, 3.2], [15.75, 2.2], [15.85, 3.78], [15.95, 2.6], [16.05, 1.64], [16.15, 3.0], [16.25, 2.2], [16.35, 3.39], [16.45, 2.6],
  [16.55, 1.4], [16.65, 2.8], [16.75, 2.42], [16.85, 3.6], [16.95, 1.64], [17.05, 2.8], [17.15, 2.03], [17.25, 3.0], [17.35, 1.4],
  [17.45, 2.6], [17.55, 2.2], [17.65, 1.85], [17.75, 2.42], [17.85, 1.64],
  [17.95, 1.15], [18.05, 1.85], [18.15, 2.42], [18.25, 1.4], [18.35, 2.03], [18.45, 1.15], [18.55, 1.64], [18.65, 2.2], [18.75, 1.15],
  [18.85, 2.42],
  [19.05, 2.2], [19.15, 3.0], [19.25, 1.64], [19.35, 2.6], [19.45, 3.39], [19.55, 1.4], [19.65, 2.8], [19.75, 2.03], [19.85, 3.2],
  [19.95, 1.4], [20.05, 2.42], [20.15, 3.0], [20.25, 1.64], [20.35, 2.6], [20.45, 2.03], [20.55, 3.2], [20.65, 1.64], [20.75, 2.8],
  [20.85, 1.15], [20.95, 2.2],
  [21.05, 1.64], [21.15, 2.42], [21.25, 2.8], [21.35, 1.15], [21.45, 2.03], [21.55, 2.8], [21.65, 1.85], [21.75, 2.6], [21.85, 1.4],
  [21.95, 2.2],
  [22.05, 3.2], [22.15, 1.4], [22.25, 2.6], [22.35, 3.39], [22.45, 2.03], [22.55, 3.0], [22.65, 1.64], [22.75, 2.8], [22.85, 3.78],
  [22.95, 2.2], [23.05, 3.39], [23.15, 1.64], [23.25, 2.6], [23.35, 3.6], [23.45, 1.85], [23.55, 3.0], [23.65, 2.2], [23.75, 4.0],
  [23.85, 2.42], [23.95, 1.4], [24.05, 3.2], [24.15, 2.03], [24.25, 2.8], [24.35, 4.21], [24.45, 1.64], [24.55, 3.39], [24.65, 2.2],
  [24.75, 3.0], [24.85, 1.4], [24.95, 2.6], [25.05, 1.85], [25.15, 3.2],
  [25.25, 2.03], [25.35, 3.0], [25.45, 1.64], [25.55, 2.8], [25.65, 3.39], [25.75, 1.85], [25.85, 2.6], [25.95, 3.78], [26.05, 1.4],
  [26.15, 2.8], [26.25, 3.2], [26.35, 1.85], [26.45, 3.39], [26.55, 2.2], [26.65, 1.4], [26.75, 3.0], [26.85, 2.42], [26.95, 1.64],
  [27.05, 2.8], [27.15, 3.39], [27.25, 1.64], [27.35, 2.42],
  [27.5, 2.2], [27.6, 1.4], [27.7, 2.6], [27.8, 1.85], [27.9, 2.8], [28.05, 1.64], [28.15, 3.39], [28.25, 2.6], [28.35, 3.0], [28.45, 1.64],
  [28.55, 2.2], [28.65, 3.0], [28.75, 2.03], [28.85, 3.39], [28.95, 1.85], [29.05, 2.6], [29.15, 1.4], [29.25, 3.0], [29.35, 2.2],
  [29.45, 1.85], [29.55, 2.8], [29.65, 3.39], [29.75, 2.03], [29.85, 1.4], [29.95, 2.8],
];

const r04Ratio: Pt[] = [
  [1.5, 2.2], [1.7, 2.6], [1.9, 2.1], [2.1, 2.4], [2.3, 2.8], [2.5, 2.2], [2.7, 2.5], [2.9, 2.1], [3.1, 2.7], [3.3, 2.3], [3.5, 2.9],
  [3.7, 2.2], [3.9, 2.5], [4.1, 2.3], [4.3, 2.7], [4.5, 2.2], [4.7, 2.6], [4.9, 2.9], [5.1, 2.4], [5.3, 3.1], [5.5, 2.6], [5.7, 3.3],
  [5.9, 2.8], [6.1, 2.5], [6.3, 2.2], [6.5, 2.7], [6.7, 2.4], [6.9, 3.0], [7.1, 2.6], [7.3, 2.3], [7.5, 2.8], [7.7, 2.5], [7.9, 2.9],
  [8.1, 2.6], [8.3, 3.0], [8.5, 2.5], [8.7, 2.8], [8.9, 3.2], [9.1, 2.6], [9.3, 2.9], [9.5, 3.3], [9.7, 2.7], [9.9, 3.0], [10.1, 2.6],
  [10.3, 3.1], [10.5, 2.8], [10.7, 3.2], [10.9, 2.9], [11.1, 3.4], [11.3, 2.8], [11.5, 3.1], [11.7, 2.9], [11.9, 3.2], [12.1, 2.8],
  [12.3, 3.0], [12.5, 3.1], [12.7, 2.8], [12.9, 3.2], [13.1, 2.9], [13.3, 3.0], [13.5, 2.8], [13.7, 3.2], [13.9, 2.9], [14.1, 3.1],
  [14.3, 2.8], [14.5, 3.3], [14.7, 2.9], [14.9, 3.4], [15.1, 3.0], [15.3, 3.5], [15.5, 3.1], [15.7, 2.9], [15.9, 3.3], [16.1, 3.0],
  [16.3, 3.4], [16.5, 2.9], [16.7, 3.2], [16.9, 3.0], [17.1, 3.3], [17.3, 2.9], [17.5, 3.1], [17.7, 2.9],
  [18.0, 3.6], [18.2, 3.3], [18.4, 3.7], [18.6, 3.4], [18.8, 3.0], [19.0, 3.5], [19.2, 3.2], [19.4, 3.6], [19.6, 3.1], [19.8, 3.4],
  [20.0, 3.7], [20.2, 3.3], [20.4, 3.6], [20.6, 3.2], [20.8, 3.5], [21.0, 3.8], [21.2, 3.3], [21.4, 3.6], [21.6, 3.4], [21.8, 3.9],
  [22.0, 3.5], [22.2, 3.3], [22.4, 3.7], [22.6, 3.4], [22.8, 3.8], [23.0, 3.5], [23.2, 3.3], [23.4, 3.7], [23.6, 3.5], [23.8, 3.9],
  [24.0, 3.6], [24.2, 3.4], [24.4, 3.8], [24.6, 3.6], [24.8, 4.0], [25.0, 3.7], [25.2, 3.5], [25.4, 3.9], [25.6, 3.7], [25.8, 4.1],
  [26.0, 3.8], [26.2, 3.6], [26.4, 4.0], [26.6, 3.8], [26.8, 4.2], [27.0, 3.9], [27.2, 3.7], [27.4, 4.1], [27.6, 3.8], [27.8, 4.3],
  [28.0, 4.0], [28.2, 3.8], [28.4, 4.2], [28.6, 4.0], [28.8, 4.5], [29.0, 4.1], [29.2, 3.9], [29.4, 4.4], [29.6, 4.2], [29.8, 4.6], [30.0, 4.3],
  [1.6, 2.0], [1.8, 2.3], [2.0, 2.7], [2.2, 2.0], [2.4, 2.3], [2.6, 2.6], [2.8, 2.3], [3.0, 2.0], [3.2, 2.4], [3.4, 2.6], [3.6, 2.3],
  [3.8, 2.0], [4.0, 2.7], [4.2, 2.5], [4.4, 2.0], [4.6, 2.4], [4.8, 2.2], [5.0, 2.6], [5.2, 2.2], [5.4, 2.8], [5.6, 3.0], [5.8, 2.4],
  [6.0, 3.0], [6.2, 2.7], [6.4, 2.5], [6.6, 3.1], [6.8, 2.2], [7.0, 2.8], [7.2, 2.4], [7.4, 2.6], [7.6, 2.3], [7.8, 2.7], [8.0, 2.4],
  [8.2, 2.8], [8.4, 2.7], [8.6, 3.1], [8.8, 2.6], [9.0, 2.5], [9.2, 3.0], [9.4, 2.7], [9.6, 2.6], [9.8, 3.1], [10.0, 2.8], [10.2, 3.2],
  [10.4, 2.7], [10.6, 3.0], [10.8, 2.7], [11.0, 3.0], [11.2, 3.1], [11.4, 3.3], [11.6, 2.8], [11.8, 3.0], [12.0, 3.3], [12.2, 2.9],
  [12.4, 3.3], [12.6, 2.9], [12.8, 3.0], [13.0, 2.8], [13.2, 3.3], [13.4, 3.1], [13.6, 3.0], [13.8, 3.3], [14.0, 2.8], [14.2, 3.0],
  [14.4, 3.1], [14.6, 3.0], [14.8, 2.9], [15.0, 3.2], [15.2, 2.9], [15.4, 3.3], [15.6, 3.4], [15.8, 3.1], [16.0, 2.8], [16.2, 3.2],
  [16.4, 3.1], [16.6, 3.3], [16.8, 2.9], [17.0, 3.1], [17.2, 3.0], [17.4, 3.2], [17.6, 3.0],
  [18.1, 3.4], [18.3, 3.8], [18.5, 3.2], [18.7, 3.6], [18.9, 3.3], [19.1, 3.0], [19.3, 3.4], [19.5, 3.3], [19.7, 3.7], [19.9, 3.2],
  [20.1, 3.5], [20.3, 3.1], [20.5, 3.4], [20.7, 3.7], [20.9, 3.3], [21.1, 3.5], [21.3, 3.8], [21.5, 3.2], [21.7, 3.6], [21.9, 3.4],
  [22.1, 3.8], [22.3, 3.6], [22.5, 3.2], [22.7, 3.6], [22.9, 3.3], [23.1, 3.7], [23.3, 3.6], [23.5, 3.4], [23.7, 3.8], [23.9, 3.4],
  [24.1, 3.7], [24.3, 3.9], [24.5, 3.5], [24.7, 3.8], [24.9, 3.6], [25.1, 4.0], [25.3, 3.8], [25.5, 3.6], [25.7, 3.9], [25.9, 3.7],
  [26.1, 4.1], [26.3, 3.8], [26.5, 3.7], [26.7, 4.0], [26.9, 4.3], [27.1, 3.8], [27.3, 4.2], [27.5, 4.0], [27.7, 3.9], [27.9, 4.1],
  [28.1, 4.4], [28.3, 4.0], [28.5, 3.9], [28.7, 4.3], [28.9, 4.0], [29.1, 4.6], [29.3, 4.2], [29.5, 4.0], [29.7, 4.5], [29.9, 4.8],
  [1.8, 3.93], [2.3, 4.42], [2.9, 5.04], [3.0, 5.23], [2.9, 3.84], [2.9, 3.45], [3.4, 7.71], [3.4, 6.36], [3.5, 5.58], [3.45, 4.65],
  [3.5, 3.93], [3.2, 3.5], [5.3, 5.1], [5.4, 4.9], [5.6, 6.4], [5.55, 5.8], [5.4, 4.2], [5.5, 3.7], [5.2, 3.4], [6.7, 9.46], [7.2, 9.94],
  [7.2, 9.07], [7.0, 8.59], [6.7, 7.77], [6.65, 7.1], [7.2, 7.42], [7.2, 7.0], [7.2, 6.6], [7.2, 6.4], [6.9, 5.58], [7.0, 5.4], [6.75, 4.9],
  [6.6, 4.6], [6.9, 4.4], [7.3, 5.3], [7.3, 4.8], [7.4, 4.2], [6.5, 4.0], [6.8, 3.8], [7.1, 3.6], [6.6, 3.4], [7.0, 3.3], [6.4, 3.6], [7.6, 3.4],
  [9.1, 10], [10.1, 10], [9.5, 9.5], [9.5, 9.07], [9.35, 7.17], [9.4, 6.78], [10.1, 7.17], [10.25, 6.85], [9.1, 5.68], [9.75, 5.77],
  [10.0, 5.77], [9.75, 5.2], [9.75, 4.9], [9.9, 5.0], [8.9, 4.42], [9.0, 4.03], [10.0, 4.7], [10.3, 4.4], [10.1, 4.0], [9.3, 3.8],
  [9.6, 3.6], [9.9, 3.7], [10.3, 3.5], [8.8, 3.6],
  [11.1, 9.65], [11.3, 7.56], [11.1, 6.07], [11.2, 5.58], [10.9, 4.5], [11.05, 3.84], [11.2, 3.5],
  [14.9, 4.32], [15.2, 4.6], [15.4, 4.9], [15.5, 4.85], [15.6, 4.5], [16.2, 4.07], [15.0, 3.8], [15.8, 3.6],
  [19.7, 4.42], [19.9, 4.96], [20.4, 5.5], [20.45, 5.3], [20.4, 4.4], [20.4, 4.0], [20.2, 4.1],
  [24.1, 7.87], [24.15, 5.77], [24.5, 5.77], [24.4, 4.8], [24.55, 4.85], [23.8, 4.32], [24.2, 4.3],
  [29.4, 6.78], [29.3, 5.93], [29.4, 5.54], [29.45, 5.2], [29.5, 4.8], [29.8, 4.9], [30.0, 4.6], [29.2, 4.7],
];

const GREEN = '#00B050';
const ORANGE = '#FA983A';
const FONT = '"Liberation Serif", "Times New Roman", serif';

const PLOT_W = 381;
const PLOT_H = 172;
const YW = 60;
const MT = 25;
const MR = 40;
const XH = 50;

type PanelProps = {
  data: Pt[];
  color: string;
  r: number;
  plotLeft: number;
  plotTop: number;
  yMax: number;
  yTicks: number[];
  yLabels: number[];
  showX: boolean;
  legendName?: string;
};

function Panel({ data, color, r, plotLeft, plotTop, yMax, yTicks, yLabels, showX, legendName }: PanelProps) {
  const rows = data.map(([t, v]) => ({ t, v }));
  const tickStyle = { fill: '#000', fontSize: 22.5, fontFamily: FONT };
  return (
    <div style={{ position: 'absolute', left: plotLeft - YW, top: plotTop - MT }}>
      <ScatterChart width={YW + PLOT_W + MR} height={MT + PLOT_H + XH} margin={{ top: MT, right: MR, left: 0, bottom: 0 }}>
        <XAxis
          type="number"
          dataKey="t"
          domain={[0, 30]}
          ticks={timeTicks}
          interval={0}
          tickFormatter={(v: number) => (showX ? timeLabels[v] ?? '' : '')}
          tickSize={-6}
          tickMargin={31}
          height={XH}
          axisLine={{ stroke: '#000', strokeWidth: 1.5 }}
          tickLine={{ stroke: '#000', strokeWidth: 1.5 }}
          tick={tickStyle}
        />
        <YAxis
          type="number"
          dataKey="v"
          domain={[0, yMax]}
          ticks={yTicks}
          interval={0}
          tickFormatter={(v: number) => (yLabels.includes(v) ? String(v) : '')}
          tickSize={-6}
          tickMargin={14}
          width={YW}
          axisLine={{ stroke: '#000', strokeWidth: 1.5 }}
          tickLine={{ stroke: '#000', strokeWidth: 1.5 }}
          tick={tickStyle}
        />
        <ReferenceArea x1={0} x2={30} y1={0} y2={yMax} fill="none" fillOpacity={0} stroke="#000" strokeWidth={1.5} />
        <Scatter
          name={legendName ?? ''}
          data={rows}
          fill={color}
          isAnimationActive={false}
          shape={(p: any) => <circle cx={p.cx} cy={p.cy} r={r} fill={color} />}
        />
        {legendName && (
          <Legend
            layout="vertical"
            align="center"
            verticalAlign="middle"
            wrapperStyle={{ position: 'absolute', left: YW + PLOT_W - 151, top: MT, width: 151, height: 35 }}
            content={() => (
              <div
                style={{
                  boxSizing: 'border-box',
                  width: 151,
                  height: 35,
                  border: '1px solid #000',
                  background: '#fff',
                  position: 'relative',
                  fontFamily: FONT,
                  fontSize: 24,
                }}
              >
                <span
                  style={{
                    position: 'absolute',
                    left: 27,
                    top: 12,
                    width: 11,
                    height: 11,
                    borderRadius: '50%',
                    background: color,
                  }}
                />
                <span style={{ position: 'absolute', left: 67, top: 2, lineHeight: '30px', whiteSpace: 'nowrap' }}>{legendName}</span>
              </div>
            )}
          />
        )}
      </ScatterChart>
    </div>
  );
}

const LEFT_X = 91;
const RIGHT_X = 543;
const TOPS = [25, 197, 369];

export default function App() {
  const txt: React.CSSProperties = { position: 'absolute', fontFamily: FONT, fontSize: 23.5, color: '#000', whiteSpace: 'nowrap' };
  return (
    <div style={{ position: 'absolute', left: 0, top: 0, width: 1054, height: 659, background: '#fff', overflow: 'hidden' }}>
      <Panel data={g06Ele} color={GREEN} r={3} plotLeft={LEFT_X} plotTop={TOPS[0]} yMax={80} yTicks={leftYTicks} yLabels={leftTopLabels} showX={false} legendName={seriesNames[0]} />
      <Panel data={g06Cn0} color={GREEN} r={3} plotLeft={LEFT_X} plotTop={TOPS[1]} yMax={80} yTicks={leftYTicks} yLabels={leftLabels} showX={false} />
      <Panel data={g06Ratio} color={GREEN} r={3} plotLeft={LEFT_X} plotTop={TOPS[2]} yMax={80} yTicks={leftYTicks} yLabels={leftLabels} showX={true} />
      <Panel data={r04Ele} color={ORANGE} r={3.4} plotLeft={RIGHT_X} plotTop={TOPS[0]} yMax={10} yTicks={rightYTicks} yLabels={rightTopLabels} showX={false} legendName={seriesNames[1]} />
      <Panel data={[...r04Cn0, ...r04Cn0Dense]} color={ORANGE} r={3.3} plotLeft={RIGHT_X} plotTop={TOPS[1]} yMax={10} yTicks={rightYTicks} yLabels={rightLabels} showX={false} />
      <Panel data={r04Ratio} color={ORANGE} r={3.3} plotLeft={RIGHT_X} plotTop={TOPS[2]} yMax={10} yTicks={rightYTicks} yLabels={rightLabels} showX={true} />

      <div style={{ ...txt, left: 30, top: 283, transform: 'translate(-50%, -50%) rotate(-90deg)' }}>
        Observation variance (m<sup style={{ fontSize: 15, verticalAlign: 'top', position: 'relative', top: -4 }}>2</sup>×10000)
      </div>
      <div style={{ ...txt, left: 944, top: 112, transform: 'translateY(-50%)' }}>{rowNames[0]}</div>
      <div style={{ ...txt, left: 944, top: 283, transform: 'translateY(-50%)' }}>{rowNames[1]}</div>
      <div style={{ ...txt, left: 944, top: 453, transform: 'translateY(-50%)' }}>{rowNames[2]}</div>
      <div style={{ ...txt, left: 281, top: 610, transform: 'translate(-50%, -50%)' }}>GPS Time (HH:MM)</div>
      <div style={{ ...txt, left: 735, top: 610, transform: 'translate(-50%, -50%)' }}>GPS Time (HH:MM)</div>
      <div style={{ ...txt, left: 241, top: 646, transform: 'translate(-50%, -50%)' }}>(<b>a</b>)</div>
      <div style={{ ...txt, left: 765, top: 646, transform: 'translate(-50%, -50%)' }}>(<b>b</b>)</div>
    </div>
  );
}
